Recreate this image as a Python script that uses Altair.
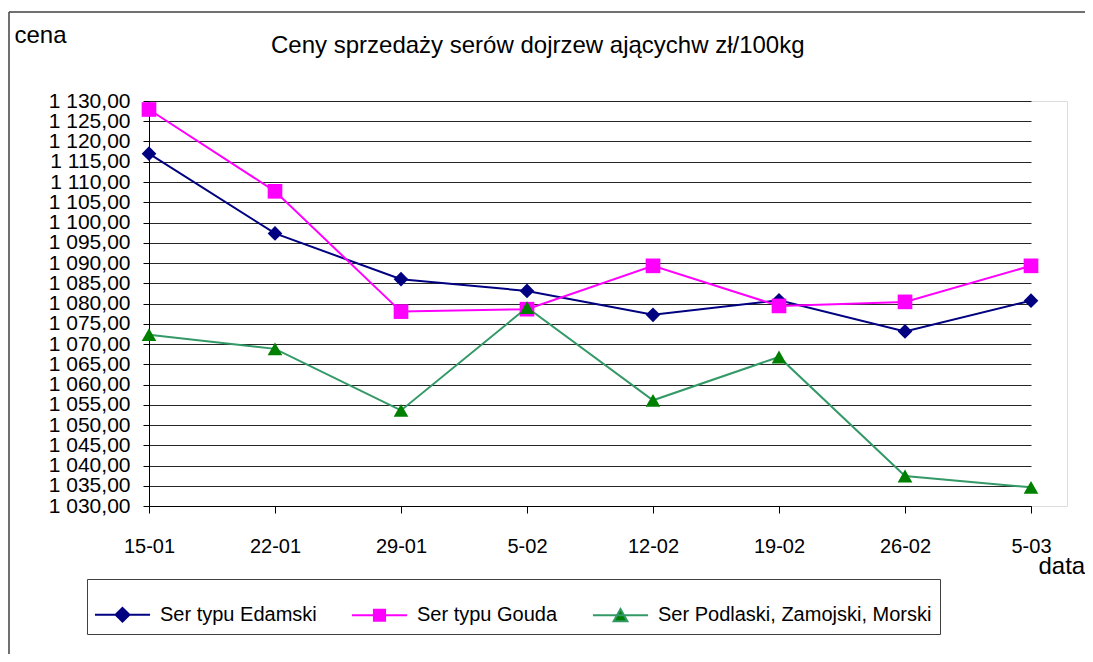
import altair as alt
import pandas as pd

dates = ["15-01", "22-01", "29-01", "5-02", "12-02", "19-02", "26-02", "5-03"]
series = ["Ser typu Edamski", "Ser typu Gouda", "Ser Podlaski, Zamojski, Morski"]
edamski = [1117.0, 1097.3, 1086.0, 1083.1, 1077.2, 1080.8, 1073.1, 1080.7]
gouda = [1127.9, 1107.7, 1078.0, 1078.6, 1089.3, 1079.4, 1080.4, 1089.3]
podlaski = [1072.3, 1068.8, 1053.6, 1079.0, 1056.1, 1066.8, 1037.4, 1034.6]
y_ticks = [1030, 1035, 1040, 1045, 1050, 1055, 1060, 1065, 1070, 1075, 1080,
           1085, 1090, 1095, 1100, 1105, 1110, 1115, 1120, 1125, 1130]

line_colors = ["#000080", "#FF00FF", "#339966"]
marker_colors = ["#000080", "#FF00FF", "#008000"]
marker_paths = [
    "M0,-1L1,0L0,1L-1,0Z",
    "M-1,-1H1V1H-1Z",
    "M0,-0.875L1,0.875L-1,0.875Z",
]
legend_paths = [
    "M-1.04,0H1.04M0,-0.26L0.26,0L0,0.26L-0.26,0Z",
    "M-1.04,0H1.04M-0.21,-0.21H0.21V0.21H-0.21Z",
    "M-1.04,0H1.04M0,-0.23L0.26,0.23L-0.26,0.23Z",
]

rows = []
for s, vals in zip(series, [edamski, gouda, podlaski]):
    for d, v in zip(dates, vals):
        rows.append({"data": d, "cena": v, "series": s})
df = pd.DataFrame(rows)

FONT = "Liberation Sans"

x_enc = alt.X(
    "data:N",
    sort=dates,
    scale=alt.Scale(type="point", domain=dates, range=[0, 882], padding=0),
    axis=alt.Axis(
        title="data", titleX=889, titleY=67, titleAngle=0, titleAlign="left",
        titleBaseline="alphabetic", titleFontSize=24, titleFontWeight="normal",
        titleFont=FONT, titleColor="#000",
        labelAngle=0, labelFontSize=20, labelFont=FONT, labelColor="#000",
        labelPadding=23, tickSize=7, tickColor="#000", domainColor="#000",
        grid=False,
    ),
)
y_enc = alt.Y(
    "cena:Q",
    scale=alt.Scale(domain=[1030, 1130], nice=False, zero=False),
    axis=alt.Axis(
        title="cena", titleX=-135, titleY=-59, titleAngle=0, titleAlign="left",
        titleBaseline="alphabetic", titleFontSize=24, titleFontWeight="normal",
        titleFont=FONT, titleColor="#000",
        values=y_ticks,
        labelExpr="replace(replace(format(datum.value, ',.2f'), ',', ' '), '.', ',')",
        labelFontSize=21, labelFont=FONT, labelColor="#000", labelPadding=13,
        tickSize=6, tickColor="#000", domainColor="#000",
        grid=True, gridColor="#000", gridWidth=1, gridOpacity=0.85,
        labelOverlap=False,
    ),
)

base = alt.Chart(df)

layers = []
for s, lc in zip(series, line_colors):
    layers.append(
        base.transform_filter(alt.datum.series == s)
        .mark_line(strokeWidth=2, color=lc)
        .encode(x=x_enc, y=y_enc)
    )
for s, col, path in zip(series, marker_colors, marker_paths):
    layers.append(
        base.transform_filter(alt.datum.series == s)
        .mark_point(shape=path, filled=True, color=col, size=215, opacity=1)
        .encode(x=x_enc, y=y_enc)
    )

leg = alt.Legend(
    title=None, orient="none", legendX=-62, legendY=478, direction="horizontal",
    symbolSize=2809, symbolStrokeWidth=2, symbolOpacity=1,
    labelFontSize=20, labelFont=FONT, labelColor="#000", labelOffset=10,
    labelLimit=500, columnPadding=30, padding=8,
    strokeColor="#404040", fillColor="#FFFFFF",
)
legend_layer = base.mark_point(filled=True, opacity=0, size=2809).encode(
    x=x_enc, y=y_enc,
    fill=alt.Fill("series:N", scale=alt.Scale(domain=series, range=marker_colors), legend=leg),
    stroke=alt.Stroke("series:N", scale=alt.Scale(domain=series, range=line_colors), legend=leg),
    shape=alt.Shape("series:N", scale=alt.Scale(domain=series, range=legend_paths), legend=leg),
)
layers.append(legend_layer)

frame_top = alt.Chart(pd.DataFrame({"a": [0]})).mark_rule(color="#404040", strokeWidth=1.5).encode(
    x=alt.value(-140), x2=alt.value(936), y=alt.value(-89)
)
frame_left = alt.Chart(pd.DataFrame({"a": [0]})).mark_rule(color="#404040", strokeWidth=1.5).encode(
    x=alt.value(-140), y=alt.value(-89), y2=alt.value(553)
)
layers += [frame_top, frame_left]

chart = alt.layer(*layers).properties(
    width=918, height=405,
    title=alt.TitleParams(
        "Ceny sprzedaży serów dojrzew ającychw zł/100kg",
        anchor="start", frame="group", dx=122, dy=66, offset=0,
        fontSize=24, font=FONT, fontWeight="normal", color="#000",
        baseline="alphabetic",
    ),
    padding={"left": 141, "top": 93, "right": 18, "bottom": 148},
    autosize=alt.AutoSizeParams(type="none"),
).configure_view(stroke="#808080", strokeWidth=2).configure(background="#FFFFFF")

chart.save("out.html", embed_options={"renderer": "svg", "actions": False})
